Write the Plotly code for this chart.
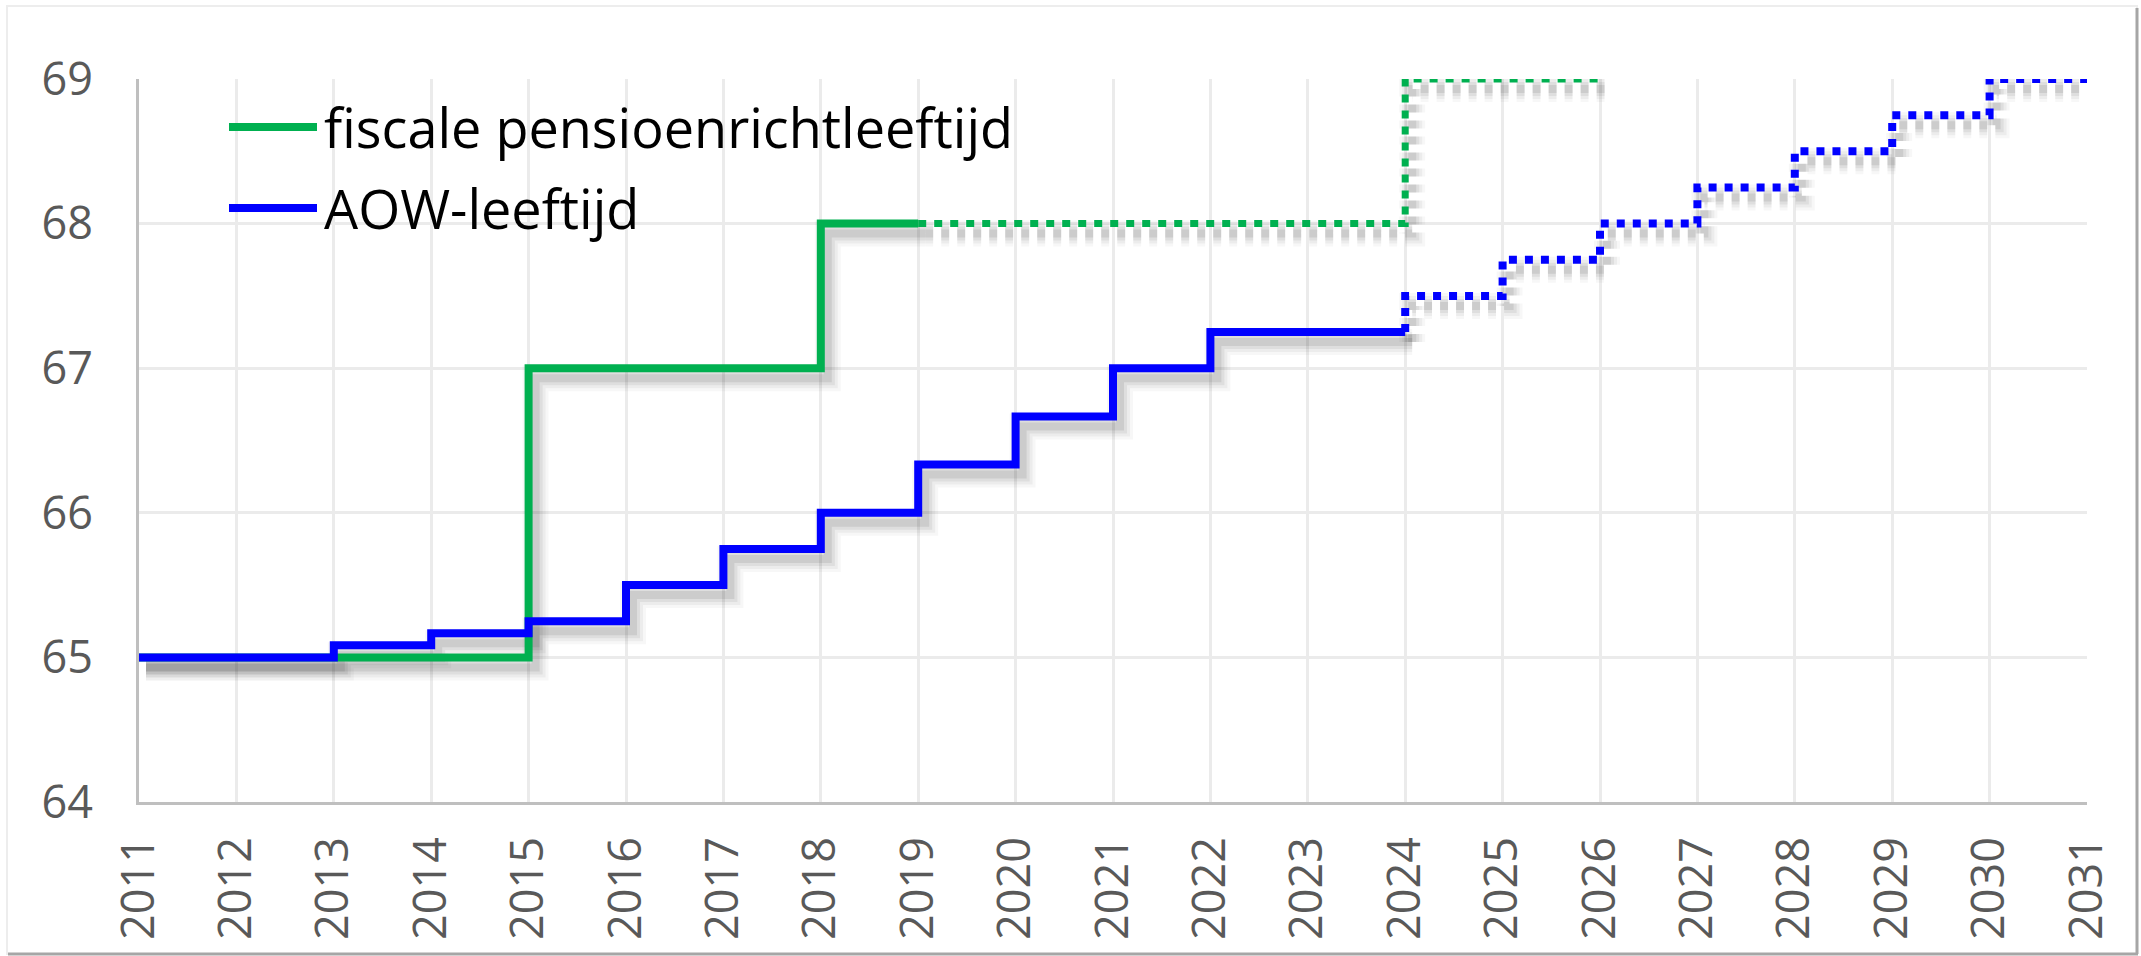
import plotly.graph_objects as go

# ---- data ----
years = list(range(2011, 2032))
tick_labels = [str(y) for y in years]
age_ticks = [64, 65, 66, 67, 68, 69]

# fiscale pensioenrichtleeftijd (step starts)
fisc_years_actual = [2011, 2015, 2018, 2019]
fisc_age_actual = [65, 67, 68, 68]
fisc_years_proj = [2019, 2024, 2026]
fisc_age_proj = [68, 69, 69]

# AOW-leeftijd (step starts)
aow_years_actual = [2011, 2013, 2014, 2015, 2016, 2017, 2018, 2019, 2020, 2021, 2022, 2024]
aow_age_actual = [65, 65 + 1/12, 65 + 2/12, 65.25, 65.5, 65.75, 66, 66 + 4/12, 66 + 8/12, 67, 67.25, 67.25]
aow_years_proj = [2024, 2025, 2026, 2027, 2028, 2029, 2030, 2031]
aow_age_proj = [67.25, 67.5, 67.75, 68, 68.25, 68.5, 68.75, 69]

series_names = ["fiscale pensioenrichtleeftijd", "AOW-leeftijd"]
GREEN = "#00B050"
BLUE = "#0000FF"

W, H = 2141, 956
L, R, T, B = 139, 54, 79, 154
pw, ph = W - L - R, H - T - B
x0, x1 = 2011, 2031
y0, y1 = 64, 69
# shadow offset in pixels
sdx, sdy = 7, 10
dx = sdx * (x1 - x0) / pw
dy = sdy * (y1 - y0) / ph

fig = go.Figure()

# invisible anchor trace so the base subplot (visible axes + grid) exists
fig.add_trace(go.Scatter(x=[years[0]], y=[age_ticks[0]], mode="markers",
                         marker=dict(opacity=0), showlegend=False, hoverinfo="skip"))

segments = [
    (fisc_years_actual, fisc_age_actual, GREEN, "solid", "hv", 8),
    (fisc_years_proj, fisc_age_proj, GREEN, "8px,8px", "hv", 7),
    (aow_years_actual, aow_age_actual, BLUE, "solid", "hv", 8),
    (aow_years_proj, aow_age_proj, BLUE, "8px,8px", "vh", 8),
]

# shadows (on offset overlay axes)
for xs, ys, col, dash, shape, lw in segments:
    for w, a in [(26, 0.03), (20, 0.045), (14, 0.06), (8, 0.08)]:
        fig.add_trace(go.Scatter(
            x=xs, y=ys, mode="lines", line=dict(color=f"rgba(0,0,0,{a})", width=w, dash=dash, shape=shape),
            xaxis="x2", yaxis="y2", showlegend=False, hoverinfo="skip"))

# main lines
for xs, ys, col, dash, shape, lw in segments:
    fig.add_trace(go.Scatter(
        x=xs, y=ys, mode="lines", line=dict(color=col, width=lw, dash=dash, shape=shape),
        xaxis="x3", yaxis="y3", showlegend=False))

tickfont = dict(family="Open Sans, Liberation Sans, sans-serif", size=45, color="#595959")
fig.update_layout(
    width=W, height=H,
    margin=dict(l=L, r=R, t=T, b=B, pad=0, autoexpand=False),
    paper_bgcolor="white", plot_bgcolor="white",
    showlegend=False,
    xaxis=dict(range=[x0, x1], tickvals=years, ticktext=tick_labels, tickangle=-90,
               tickfont=tickfont, showgrid=True, gridcolor="#EBEBEB", gridwidth=3,
               showline=True, linecolor="#BFBFBF", linewidth=3, zeroline=False,
               ticks="", ticklabelstandoff=14, fixedrange=True, automargin=False),
    yaxis=dict(range=[y0, y1], tickvals=age_ticks, tickfont=tickfont, showgrid=True,
               gridcolor="#EBEBEB", gridwidth=3, showline=True, linecolor="#BFBFBF",
               linewidth=3, zeroline=False, ticks="", ticklabelstandoff=34, fixedrange=True,
               automargin=False),
    xaxis2=dict(range=[x0 - dx, x1 - dx], overlaying="x", visible=False, fixedrange=True),
    yaxis2=dict(range=[y0 + dy, y1 + dy], overlaying="y", visible=False, fixedrange=True),
    xaxis3=dict(range=[x0, x1], overlaying="x", visible=False, fixedrange=True),
    yaxis3=dict(range=[y0, y1], overlaying="y", visible=False, fixedrange=True),
)

def px_x(p):
    return (p - L) / pw

def px_y(p):
    return (T + ph - p) / ph

shapes = [
    # outer chart frame
    dict(type="rect", xref="paper", yref="paper", x0=px_x(7), x1=px_x(2137), y0=px_y(954), y1=px_y(6),
         line=dict(color="#EDEDED", width=2)),
    dict(type="line", xref="paper", yref="paper", x0=px_x(2137), x1=px_x(2137), y0=px_y(954), y1=px_y(8),
         line=dict(color="#A6A6A6", width=3)),
    dict(type="line", xref="paper", yref="paper", x0=px_x(8), x1=px_x(2138), y0=px_y(954), y1=px_y(954),
         line=dict(color="#A6A6A6", width=3)),
]
annotations = []
legend_rows = [(series_names[0], GREEN, 127), (series_names[1], BLUE, 208)]
for name, col, ypix in legend_rows:
    shapes.append(dict(type="line", xref="paper", yref="paper", x0=px_x(229), x1=px_x(317),
                       y0=px_y(ypix), y1=px_y(ypix), line=dict(color=col, width=8)))
    annotations.append(dict(xref="paper", yref="paper", x=px_x(322), y=px_y(ypix), text=name,
                            showarrow=False, xanchor="left", yanchor="middle",
                            font=dict(family="Open Sans, sans-serif", size=54, color="black")))
fig.update_layout(shapes=shapes, annotations=annotations)

fig.write_html(
    "out.html",
    config={"displayModeBar": False, "staticPlot": False},
    post_script="document.body.style.margin='0';document.documentElement.style.overflow='hidden';",
)
